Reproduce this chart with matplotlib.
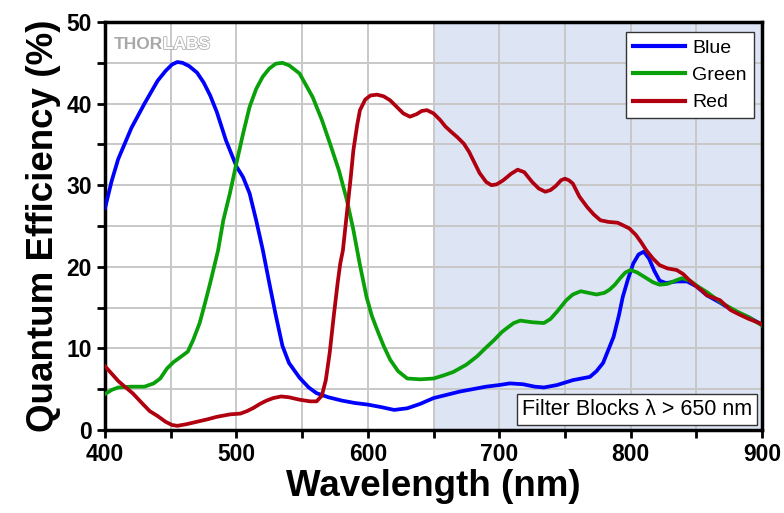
import matplotlib
matplotlib.use("Agg")
import matplotlib.pyplot as plt
import matplotlib.patheffects as pe

plt.rcParams['font.family'] = ['Liberation Sans', 'DejaVu Sans']

# Blue channel
blue_wl = [400, 405, 410, 420, 430, 440, 446, 451, 455, 459, 464, 470, 475, 480, 485,
           492, 500, 505, 510, 515, 520, 525, 530, 535, 540, 548, 555, 561, 570, 580,
           590, 600, 610, 620, 630, 640, 650, 660, 670, 680, 690, 700, 708, 718, 727,
           734, 744, 756, 769, 774, 779, 783, 787, 791, 794, 798, 802, 806, 810, 814,
           818, 822, 827, 835, 843, 850, 858, 868, 878, 890, 900]
blue_qe = [27.2, 30.5, 33.2, 37.0, 40.0, 42.8, 44.0, 44.8, 45.1, 45.0, 44.6, 43.8, 42.6, 41.0, 39.0,
           35.5, 32.3, 31.0, 29.0, 25.7, 22.1, 18.0, 14.0, 10.3, 8.2, 6.4, 5.2, 4.5, 4.0, 3.6,
           3.3, 3.1, 2.8, 2.45, 2.65, 3.2, 3.9, 4.3, 4.7, 5.0, 5.3, 5.5, 5.7, 5.6, 5.3,
           5.2, 5.5, 6.1, 6.5, 7.2, 8.2, 9.8, 11.4, 14.0, 16.3, 18.5, 20.4, 21.5, 21.85, 21.0,
           19.5, 18.3, 18.0, 18.2, 18.2, 17.6, 16.5, 15.6, 14.6, 13.8, 12.9]

# Green channel
green_wl = [400, 405, 410, 420, 430, 437, 442, 447, 452, 458, 463, 467, 472, 476, 480,
            486, 490, 495, 500, 505, 510, 515, 520, 525, 530, 535, 540, 548, 558, 565,
            571, 578, 584, 589, 594, 599, 603, 607, 612, 617, 623, 630, 640, 650, 658,
            665, 675, 683, 690, 696, 702, 706, 711, 716, 725, 734, 739, 744, 751, 756,
            762, 768, 774, 780, 784, 788, 792, 796, 800, 805, 812, 817, 822, 828, 834,
            839, 845, 852, 858, 863, 870, 880, 890, 900]
green_qe = [4.4, 4.9, 5.2, 5.3, 5.3, 5.7, 6.3, 7.5, 8.3, 9.0, 9.6, 11.0, 13.1, 15.5, 18.0,
            22.0, 25.7, 29.0, 32.7, 36.3, 39.6, 41.8, 43.3, 44.3, 44.9, 45.0, 44.7, 43.7, 40.8, 38.0,
            35.2, 31.8, 28.2, 24.5, 20.2, 16.3, 14.0, 12.3, 10.3, 8.6, 7.2, 6.3, 6.2, 6.3, 6.7,
            7.1, 8.0, 9.0, 10.1, 11.0, 12.0, 12.5, 13.1, 13.4, 13.2, 13.1, 13.6, 14.5, 15.9, 16.6,
            17.0, 16.8, 16.6, 16.8, 17.2, 17.8, 18.6, 19.3, 19.6, 19.3, 18.6, 18.1, 17.8, 17.9, 18.3,
            18.6, 18.3, 17.5, 16.9, 16.3, 15.5, 14.6, 13.8, 12.8]

# Red channel
red_wl = [400, 405, 410, 415, 421, 428, 434, 440, 446, 451, 455, 462, 470, 478, 485,
          495, 503, 508, 513, 518, 523, 528, 534, 540, 548, 556, 561, 565, 568, 571,
          574, 577, 579, 581, 584, 587, 589, 592, 594, 598, 602, 607, 612, 617, 622,
          627, 632, 637, 641, 645, 650, 655, 659, 663, 668, 673, 677, 681, 685, 690,
          694, 698, 703, 709, 714, 719, 725, 730, 735, 739, 743, 747, 750, 753, 756,
          761, 767, 772, 777, 783, 790, 794, 799, 804, 808, 812, 817, 822, 828, 835,
          840, 845, 850, 855, 858, 863, 868, 872, 876, 882, 890, 898, 900]
red_qe = [7.8, 6.9, 6.0, 5.3, 4.5, 3.3, 2.3, 1.7, 1.0, 0.6, 0.5, 0.7, 1.0, 1.3, 1.6,
          1.9, 2.0, 2.3, 2.7, 3.2, 3.6, 3.9, 4.1, 4.0, 3.7, 3.5, 3.5, 4.2, 6.1, 9.5,
          13.9, 18.0, 20.4, 22.0, 26.5, 31.0, 34.3, 37.5, 39.2, 40.5, 41.0, 41.1, 40.9, 40.4, 39.6,
          38.8, 38.4, 38.7, 39.1, 39.2, 38.8, 38.0, 37.2, 36.6, 35.9, 35.1, 34.1, 32.8, 31.5, 30.4,
          30.0, 30.1, 30.6, 31.4, 31.9, 31.6, 30.4, 29.6, 29.2, 29.4, 29.9, 30.6, 30.8, 30.6, 30.2,
          28.6, 27.3, 26.4, 25.7, 25.5, 25.4, 25.1, 24.7, 23.9, 23.0, 22.0, 21.0, 20.2, 19.8, 19.6,
          19.1, 18.3, 17.6, 17.0, 16.5, 16.2, 15.9, 15.3, 14.7, 14.2, 13.6, 13.1, 12.9]

CUTOFF = 650

fig = plt.figure(figsize=(7.84, 5.13), dpi=100)
ax = fig.add_axes([0.134, 0.162, 0.838, 0.795])

ax.axvspan(CUTOFF, 900, color='#dde5f5', zorder=0)

ax.plot(blue_wl, blue_qe, color='#0000ff', lw=2.7, label='Blue', zorder=3,
        solid_joinstyle='round')
ax.plot(green_wl, green_qe, color='#0aa00a', lw=2.7, label='Green', zorder=3,
        solid_joinstyle='round')
ax.plot(red_wl, red_qe, color='#b00010', lw=2.7, label='Red', zorder=3,
        solid_joinstyle='round')

ax.set_xlim(400, 900)
ax.set_ylim(0, 50)
ax.set_xticks(range(400, 901, 100))
ax.set_xticks(range(450, 900, 100), minor=True)
ax.set_yticks(range(0, 51, 10))
ax.set_yticks(range(5, 50, 10), minor=True)
ax.grid(True, which='both', color='#c8c8c8', lw=1.4, zorder=1)
ax.set_axisbelow(True)

ax.tick_params(which='both', direction='out', length=6, width=2, top=False, right=False)
for lab in ax.get_xticklabels() + ax.get_yticklabels():
    lab.set_fontsize(16.5)
    lab.set_fontweight('bold')
for s in ax.spines.values():
    s.set_linewidth(2.5)

ax.set_xlabel('Wavelength (nm)', fontsize=26.5, fontweight='bold', labelpad=2)
ax.set_ylabel('Quantum Efficiency (%)', fontsize=26.5, fontweight='bold', labelpad=4)

leg = ax.legend(loc='upper right', fontsize=14, fancybox=False, framealpha=1,
                edgecolor='#333333', handlelength=2.7, borderpad=0.35,
                labelspacing=0.5, handletextpad=0.35, borderaxespad=0,
                bbox_to_anchor=(0.987, 0.975))
leg.get_frame().set_linewidth(1.0)
for line in leg.get_lines():
    line.set_linewidth(3)

ax.text(0.985, 0.05, 'Filter Blocks \u03bb > 650 nm', transform=ax.transAxes,
        ha='right', va='center', fontsize=15.5, zorder=5,
        bbox=dict(boxstyle='square,pad=0.22', fc='white', ec='#333333', lw=1.0))

# watermark
t1 = ax.text(0.013, 0.945, 'THOR', transform=ax.transAxes, fontsize=12.5,
             fontweight='bold', color='#a8a8a8', va='center', ha='left', zorder=2)
fig.canvas.draw()
bb = t1.get_window_extent().transformed(ax.transAxes.inverted())
ax.text(bb.x1, 0.945, 'LABS', transform=ax.transAxes, fontsize=12.5,
        fontweight='bold', color='white', va='center', ha='left', zorder=2,
        path_effects=[pe.withStroke(linewidth=1.2, foreground='#b0b0b0')])

fig.savefig('out.png', dpi=100)
